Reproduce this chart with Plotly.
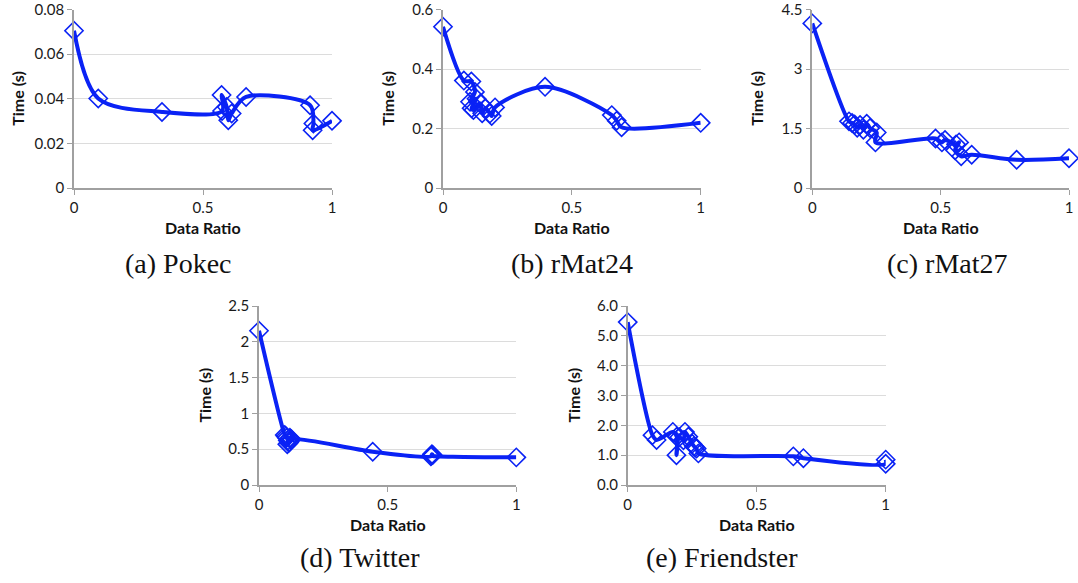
import plotly.graph_objects as go

# ---------------- data ----------------
pokec_x = [0.0, 0.094, 0.341, 0.574, 0.572, 0.592, 0.598, 0.611, 0.667, 0.915, 0.928, 0.925, 1.0]
pokec_y = [0.0705, 0.0401, 0.0341, 0.0345, 0.0417, 0.0363, 0.0304, 0.0334, 0.0408, 0.0371, 0.0289, 0.0259, 0.0301]

rmat24_x = [0.0, 0.081, 0.110, 0.124, 0.105, 0.130, 0.111, 0.118, 0.145, 0.152, 0.165, 0.182, 0.189, 0.202,
            0.396, 0.655, 0.674, 0.693, 1.0]
rmat24_y = [0.542, 0.361, 0.358, 0.323, 0.290, 0.300, 0.268, 0.262, 0.284, 0.251, 0.268, 0.250, 0.242, 0.271,
            0.340, 0.245, 0.226, 0.204, 0.219]

rmat27_x = [0.0, 0.143, 0.155, 0.165, 0.175, 0.186, 0.199, 0.212, 0.225, 0.251, 0.246,
            0.480, 0.505, 0.517, 0.560, 0.572, 0.556, 0.580, 0.621, 0.796, 1.0]
rmat27_y = [4.15, 1.68, 1.64, 1.60, 1.52, 1.59, 1.47, 1.62, 1.51, 1.40, 1.15,
            1.25, 1.15, 1.21, 1.10, 1.15, 0.95, 0.80, 0.84, 0.71, 0.75]

twitter_x = [0.0, 0.100, 0.104, 0.108, 0.112, 0.116, 0.110, 0.120, 0.124, 0.118, 0.126,
             0.442, 0.668, 0.672, 0.675, 0.670, 1.0]
twitter_y = [2.155, 0.70, 0.68, 0.66, 0.62, 0.59, 0.57, 0.66, 0.63, 0.60, 0.64,
             0.465, 0.40, 0.43, 0.42, 0.41, 0.386]

friend_x = [0.0, 0.096, 0.112, 0.175, 0.190, 0.189, 0.200, 0.216, 0.222, 0.235, 0.250, 0.257, 0.262,
            0.267, 0.274, 0.642, 0.681, 1.0, 1.0]
friend_y = [5.46, 1.67, 1.51, 1.78, 1.62, 1.00, 1.60, 1.50, 1.78, 1.62, 1.38, 1.30, 1.26,
            1.22, 1.06, 0.96, 0.90, 0.71, 0.85]

captions = ["(a) Pokec", "(b) rMat24", "(c) rMat27", "(d) Twitter", "(e) Friendster"]
y_max = [0.08, 0.6, 4.5, 2.5, 6.0]
y_dtick = [0.02, 0.2, 1.5, 0.5, 1.0]
y_fmt = ["", "", "", "", ".1f"]
x_ticks = [0, 0.5, 1]
x_ticktext = ["0", "0.5", "1"]
x_title = "Data Ratio"
y_title = "Time (s)"

series = [(pokec_x, pokec_y), (rmat24_x, rmat24_y), (rmat27_x, rmat27_y),
          (twitter_x, twitter_y), (friend_x, friend_y)]

# ---------------- layout geometry (pixels) ----------------
W, H = 1078, 583
# (x0, x1, ytop, ybottom) of each plot area in pixels
boxes = [(74, 332, 9.5, 188), (443, 700.7, 9.5, 188), (812.3, 1069, 9.5, 188),
         (259, 516.3, 306, 485), (627.7, 885.7, 306, 485)]
ytitle_px = [18, 388, 757, 204, 573]
caption_px = [(178, 263), (572, 263), (947, 263), (360, 557), (722, 557)]

BLUE = "#0a22f5"
SANS = "Lato, Open Sans, sans-serif"
TICKFONT = dict(family=SANS, size=15, color="#1a1a1a")

fig = go.Figure()
annotations = []
for i, ((xs, ys), (x0, x1, yt, yb)) in enumerate(zip(series, boxes)):
    n = i + 1
    xa = "x" if n == 1 else f"x{n}"
    ya = "y" if n == 1 else f"y{n}"
    fig.add_trace(go.Scatter(
        x=xs, y=ys, xaxis=xa, yaxis=ya, mode="lines+markers",
        line=dict(color=BLUE, width=4, shape="spline", smoothing=0.9),
        marker=dict(symbol="diamond-open", size=14, color=BLUE, line=dict(width=1.6, color=BLUE)),
        cliponaxis=False, showlegend=False))
    xdom = [x0 / W, x1 / W]
    ydom = [1 - yb / H, 1 - yt / H]
    xkey = "xaxis" if n == 1 else f"xaxis{n}"
    ykey = "yaxis" if n == 1 else f"yaxis{n}"
    fig.update_layout(**{
        xkey: dict(domain=xdom, anchor=ya, range=[0, 1], tickvals=x_ticks,
                   ticktext=x_ticktext, showgrid=False, zeroline=False, automargin=False,
                   showline=True, linecolor="#a0a0a0", linewidth=1.5,
                   ticks="outside", ticklen=5, tickcolor="#a0a0a0",
                   tickfont=TICKFONT, ticklabeloverflow="allow"),
        ykey: dict(domain=ydom, anchor=xa, range=[0, y_max[i]], dtick=y_dtick[i],
                   tick0=0, tickformat=y_fmt[i], showgrid=True, gridcolor="#dcdcdc",
                   gridwidth=1, zeroline=False, showline=True, linecolor="#a0a0a0",
                   linewidth=1.5, ticks="outside", ticklen=5, tickcolor="#a0a0a0",
                   tickfont=TICKFONT, automargin=False, ticklabeloverflow="allow"),
    })
    # axis titles
    annotations.append(dict(text=f"<b>{x_title}</b>", xref="paper", yref="paper",
                            x=(x0 + x1) / 2 / W, y=1 - (yb + 39) / H, showarrow=False,
                            xanchor="center", yanchor="middle",
                            font=dict(family=SANS, size=16, color="#111")))
    annotations.append(dict(text=f"<b>{y_title}</b>", xref="paper", yref="paper",
                            x=ytitle_px[i] / W, y=1 - (yt + yb) / 2 / H, showarrow=False,
                            textangle=-90, xanchor="center", yanchor="middle",
                            font=dict(family=SANS, size=16, color="#111")))
    # caption
    cx, cy = caption_px[i]
    annotations.append(dict(text=captions[i], xref="paper", yref="paper",
                            x=cx / W, y=1 - cy / H, showarrow=False,
                            xanchor="center", yanchor="middle",
                            font=dict(family="Liberation Serif, DejaVu Serif, serif", size=28, color="#111")))

fig.update_layout(width=W, height=H, margin=dict(l=0, r=0, t=0, b=0, autoexpand=False),
                  paper_bgcolor="white", plot_bgcolor="white", annotations=annotations)

fig.write_html("out.html", config={"displayModeBar": False},
               post_script="document.body.style.margin='0';document.body.style.overflow='hidden';")
